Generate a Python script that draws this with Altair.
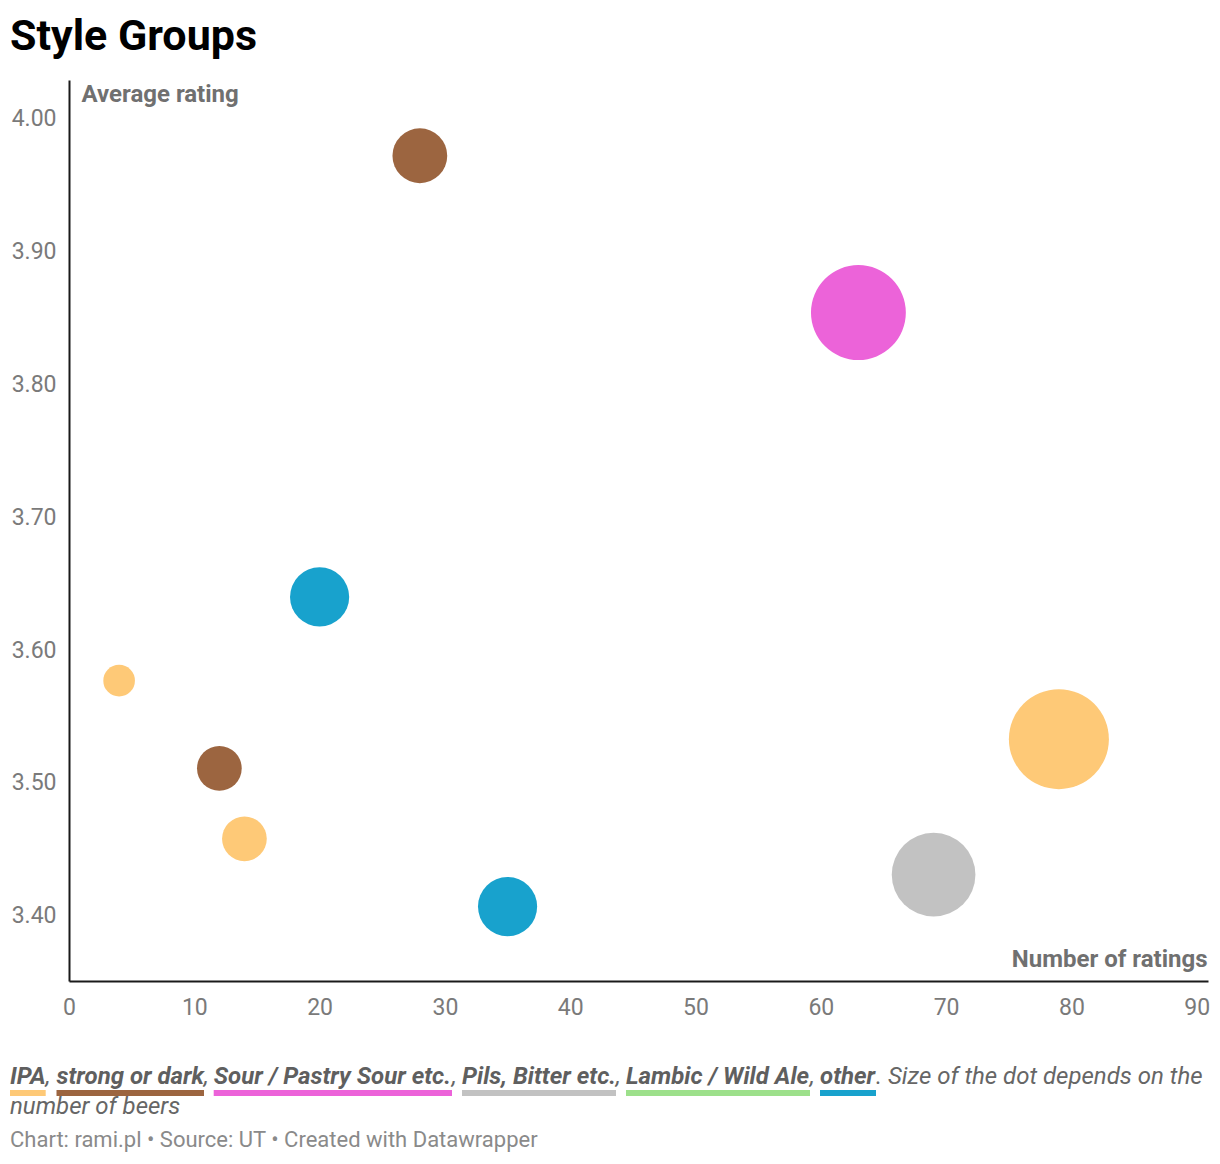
import altair as alt
import pandas as pd

# ---------------- data ----------------
styles = ["IPA", "strong or dark", "Sour / Pastry Sour etc.", "Pils, Bitter etc.",
          "Lambic / Wild Ale", "other"]
style_colors = ["#fec977", "#9c6540", "#ec63d9", "#c2c2c2", "#9de08b", "#18a2cd"]

group = ["IPA", "strong or dark", "IPA", "other", "strong or dark", "other",
         "Sour / Pastry Sour etc.", "Pils, Bitter etc.", "IPA"]
num_ratings = [4, 12, 14, 20, 28, 35, 63, 69, 79]
avg_rating = [3.577, 3.511, 3.458, 3.640, 3.972, 3.407, 3.854, 3.431, 3.533]
num_beers = [2, 4, 4, 7, 6, 7, 18, 14, 20]

x_ticks = [0, 10, 20, 30, 40, 50, 60, 70, 80, 90]
y_ticks = [3.4, 3.5, 3.6, 3.7, 3.8, 3.9, 4.0]

title_text = "Style Groups"
y_title = "Average rating"
x_title = "Number of ratings"
note_tail = ". Size of the dot depends on the"
note_line2 = "number of beers"
credit = "Chart: rami.pl \u2022 Source: UT \u2022 Created with Datawrapper"

# ---------------- layout (pixels) ----------------
FONT = "Roboto"
W, H = 1139, 901
PAD_L, PAD_T = 61, 72
legend_start = [10, 56.5, 213.7, 462, 626, 820]
legend_end = [45.7, 204, 452, 616, 810, 876]

def px(v):
    return v - 8 - PAD_L

def py(v):
    return v - 8 - PAD_T

df = pd.DataFrame({
    "Style group": group,
    "Number of ratings": num_ratings,
    "Average rating": avg_rating,
    "Beers": num_beers,
})

points = alt.Chart(df).mark_circle(opacity=1, strokeWidth=0).encode(
    x=alt.X("Number of ratings:Q",
            scale=alt.Scale(domain=[0, 90.9], nice=False, zero=False),
            axis=alt.Axis(values=x_ticks, format="d", grid=False, ticks=False,
                          domain=True, domainColor="#1a1a1a", domainWidth=2,
                          labelFont=FONT, labelFontSize=23, labelColor="#7a7a7a",
                          labelPadding=15, labelFlush=False,
                          title=x_title, titleFont=FONT, titleFontSize=24,
                          titleFontWeight="bold", titleColor="#707070",
                          titleAlign="right", titleBaseline="alphabetic",
                          titleX=W - 1, titleY=-15, titleAngle=0)),
    y=alt.Y("Average rating:Q",
            scale=alt.Scale(domain=[3.351, 4.029], nice=False, zero=False),
            axis=alt.Axis(values=y_ticks, format=".2f", grid=False, ticks=False,
                          domain=True, domainColor="#1a1a1a", domainWidth=2,
                          labelFont=FONT, labelFontSize=23, labelColor="#7a7a7a",
                          labelPadding=13, labelFlush=False,
                          title=y_title, titleFont=FONT, titleFontSize=24,
                          titleFontWeight="bold", titleColor="#707070",
                          titleAlign="left", titleBaseline="alphabetic",
                          titleX=12, titleY=21, titleAngle=0)),
    size=alt.Size("Beers:Q", scale=alt.Scale(domain=[0, 20], range=[0, 10000]),
                  legend=None),
    color=alt.Color("Style group:N", scale=alt.Scale(domain=styles, range=style_colors),
                    legend=None),
    tooltip=["Style group", "Number of ratings", "Average rating", "Beers"],
)

one = pd.DataFrame({"k": [0]})

def text_layer(txt, x, y, size=24, weight="normal", style="normal", color="#666666",
               align="left"):
    return alt.Chart(one).mark_text(
        text=txt, font=FONT, fontSize=size, fontWeight=weight, fontStyle=style,
        color=color, align=align, baseline="alphabetic"
    ).encode(x=alt.value(x), y=alt.value(y))

layers = [points]
LINE1 = py(1084)
BAR_Y1, BAR_Y2 = py(1090), py(1096)
for i, (name, col) in enumerate(zip(styles, style_colors)):
    layers.append(
        alt.Chart(one).mark_rect(color=col).encode(
            x=alt.value(px(legend_start[i])), x2=alt.value(px(legend_end[i])),
            y=alt.value(BAR_Y1), y2=alt.value(BAR_Y2))
    )
    layers.append(text_layer(name, px(legend_start[i]), LINE1, weight="bold",
                             style="italic", color="#5f5f5f"))
    sep = "," if i < len(styles) - 1 else note_tail
    layers.append(text_layer(sep, px(legend_end[i]), LINE1, style="italic"))

layers.append(text_layer(note_line2, px(10), py(1114), style="italic"))
layers.append(text_layer(credit, px(10), py(1147), size=22, color="#8a8a8a"))

chart = alt.layer(*layers).properties(
    width=W, height=H,
    background="white",
    autosize=alt.AutoSizeParams(type="none"),
    padding={"left": PAD_L, "top": PAD_T, "right": 4, "bottom": 171},
    title=alt.TitleParams(title_text, font=FONT, fontSize=43, fontWeight="bold",
                          color="#000000", anchor="start", frame="group",
                          dx=-59, dy=37, offset=24, baseline="alphabetic"),
).configure_view(strokeWidth=0, stroke="transparent")

chart.save("out.html", embed_options={"renderer": "svg", "actions": False})
